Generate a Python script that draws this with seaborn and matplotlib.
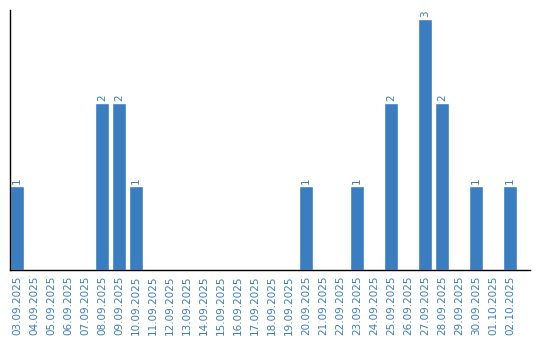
import matplotlib
matplotlib.use("Agg")
import matplotlib.pyplot as plt
import seaborn as sns
import pandas as pd

dates = ["03.09.2025", "04.09.2025", "05.09.2025", "06.09.2025", "07.09.2025",
         "08.09.2025", "09.09.2025", "10.09.2025", "11.09.2025", "12.09.2025",
         "13.09.2025", "14.09.2025", "15.09.2025", "16.09.2025", "17.09.2025",
         "18.09.2025", "19.09.2025", "20.09.2025", "21.09.2025", "22.09.2025",
         "23.09.2025", "24.09.2025", "25.09.2025", "26.09.2025", "27.09.2025",
         "28.09.2025", "29.09.2025", "30.09.2025", "01.10.2025", "02.10.2025"]
counts = [1, 0, 0, 0, 0,
          2, 2, 1, 0, 0,
          0, 0, 0, 0, 0,
          0, 0, 1, 0, 0,
          1, 0, 2, 0, 3,
          2, 0, 1, 0, 1]

df = pd.DataFrame({"date": dates, "count": counts})

sns.set_style("white")
plt.rcParams['font.family'] = ['DejaVu Sans']

blue = "#3b7dc1"
fig = plt.figure(figsize=(5.4, 3.4), dpi=100)
ax = fig.add_axes([10/540, 70/340, 520/540, 260/340])

sns.barplot(data=df, x="date", y="count", order=dates, color=blue,
            saturation=1, width=0.82, ax=ax)

labels = [str(v) if v else "" for v in counts]
ax.bar_label(ax.containers[0], labels=labels, rotation=90, padding=1.5,
             color=blue, fontsize=7.5)

ax.set_xlim(-0.41, 30.18)
ax.set_ylim(0, 3.11)
ax.set_xlabel("")
ax.set_ylabel("")
ax.set_yticks([])
ax.tick_params(axis="x", length=0, pad=4, labelcolor=blue, labelsize=7.5,
               labelrotation=90)
for s in ["top", "right"]:
    ax.spines[s].set_visible(False)
for s in ["left", "bottom"]:
    ax.spines[s].set_color("black")
    ax.spines[s].set_linewidth(1.0)

fig.savefig("out.png", dpi=100)
